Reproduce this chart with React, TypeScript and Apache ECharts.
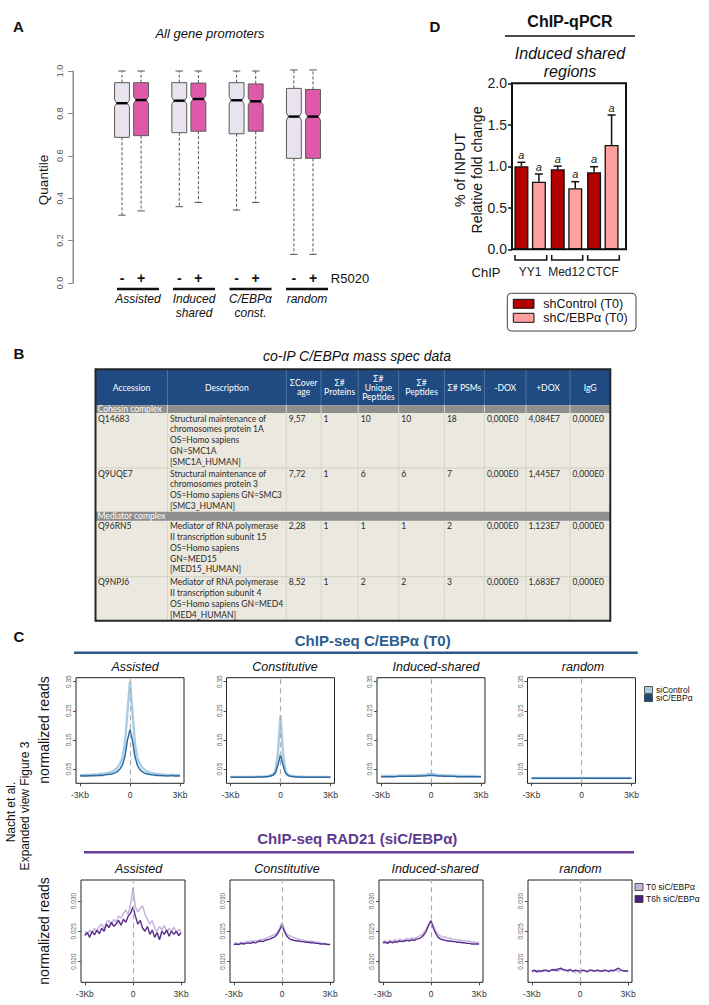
import React, { useEffect, useRef } from "react";
import * as echarts from "echarts";

const SANS = "'Liberation Sans', Arial, Helvetica, sans-serif";
const NARROW = "'Liberation Sans Narrow', 'Liberation Sans', Arial, sans-serif";
const TFONT = "Lato, 'Open Sans', sans-serif";

// ---------------- Panel A : boxplots ----------------
const BOX_POS = [0, 1, 3, 4, 6, 7, 9, 10];
const BOX_TREAT = ["-", "+", "-", "+", "-", "+", "-", "+"];
const BOX_LOW = [0.32, 0.34, 0.36, 0.38, 0.344, 0.38, 0.135, 0.135];
const BOX_Q1 = [0.687, 0.695, 0.709, 0.716, 0.704, 0.716, 0.588, 0.588];
const BOX_MED = [0.848, 0.863, 0.86, 0.868, 0.862, 0.857, 0.785, 0.785];
const BOX_Q3 = [0.945, 0.945, 0.945, 0.943, 0.945, 0.939, 0.918, 0.913];
const BOX_HIGH = [1.0, 1.0, 1.0, 1.0, 1.0, 1.0, 1.005, 1.005];
const A_GROUPS = ["Assisted", "Induced\nshared", "C/EBPα\nconst.", "random"];
const A_YTICKS = [0, 0.2, 0.4, 0.6, 0.8, 1.0];

// ---------------- Panel D : ChIP-qPCR ----------------
const QPCR_TARGETS = ["YY1", "Med12", "CTCF"];
const QPCR_SERIES = ["shControl (T0)", "shC/EBPα (T0)"];
const QPCR_CTRL = [1.0, 0.964, 0.928];
const QPCR_CTRL_ERR = [0.048, 0.038, 0.067];
const QPCR_SH = [0.815, 0.735, 1.257];
const QPCR_SH_ERR = [0.092, 0.08, 0.361];
const QPCR_SIG_CTRL = ["a", "a", "a"];
const QPCR_SIG_SH = ["a", "a", "a"];

// ---------------- Panel B : table ----------------
const TABLE_COLS = ["Accession", "Description", "ΣCover\nage", "Σ#\nProteins", "Σ#\nUnique\nPeptides", "Σ#\nPeptides", "Σ# PSMs", "-DOX", "+DOX", "IgG"];
const TABLE_SECTIONS = ["Cohesin complex", "Mediator complex"];
const ACCESSIONS = ["Q14683", "Q9UQE7", "Q96RN5", "Q9NPJ6"];
const DESCRIPTIONS = [
  "Structural maintenance of\nchromosomes protein 1A\nOS=Homo sapiens\nGN=SMC1A\n[SMC1A_HUMAN]",
  "Structural maintenance of\nchromosomes protein 3\nOS=Homo sapiens GN=SMC3\n[SMC3_HUMAN]",
  "Mediator of RNA polymerase\nII transcription subunit 15\nOS=Homo sapiens\nGN=MED15\n[MED15_HUMAN]",
  "Mediator of RNA polymerase\nII transcription subunit 4\nOS=Homo sapiens GN=MED4\n[MED4_HUMAN]",
];
const COVERAGE = ["9,57", "7,72", "2,28", "8,52"];
const PROTEINS = ["1", "1", "1", "1"];
const UNIQUE_PEPTIDES = ["10", "6", "1", "2"];
const PEPTIDES = ["10", "6", "1", "2"];
const PSMS = ["18", "7", "2", "3"];
const MINUS_DOX = ["0,000E0", "0,000E0", "0,000E0", "0,000E0"];
const PLUS_DOX = ["4,084E7", "1,445E7", "1,123E7", "1,683E7"];
const IGG = ["0,000E0", "0,000E0", "0,000E0", "0,000E0"];

// ---------------- Panel C : profiles (41 bins, -3Kb..3Kb) ----------------
const PROFILE_PANELS = ["Assisted", "Constitutive", "Induced-shared", "random"];
const PROFILE_TICKS = ["-3Kb", "0", "3Kb"];
const CEBPA_SERIES = ["siControl", "siC/EBPα"];
const RAD21_SERIES = ["T0 siC/EBPα", "T6h siC/EBPα"];
const CEBPA_YTICKS = [0.05, 0.15, 0.25, 0.35];
const RAD21_YTICKS = [0.02, 0.025, 0.03];

const CEBPA_ASSISTED_CTRL = [0.030,0.029,0.030,0.031,0.030,0.031,0.032,0.031,0.033,0.034,0.035,0.037,0.039,0.042,0.047,0.055,0.068,0.090,0.140,0.250,0.350,0.245,0.135,0.088,0.066,0.054,0.046,0.041,0.038,0.036,0.034,0.033,0.032,0.031,0.031,0.030,0.030,0.031,0.029,0.030,0.030];
const CEBPA_ASSISTED_SI = [0.027,0.026,0.027,0.026,0.027,0.028,0.027,0.028,0.029,0.028,0.030,0.031,0.032,0.034,0.037,0.042,0.050,0.065,0.095,0.150,0.185,0.148,0.092,0.062,0.048,0.040,0.035,0.033,0.031,0.030,0.029,0.028,0.028,0.027,0.027,0.026,0.027,0.027,0.026,0.027,0.026];
const CEBPA_CONST_CTRL = [0.023,0.023,0.023,0.023,0.023,0.023,0.023,0.023,0.023,0.023,0.024,0.024,0.024,0.025,0.025,0.026,0.028,0.032,0.045,0.110,0.235,0.105,0.044,0.031,0.027,0.026,0.025,0.024,0.024,0.024,0.023,0.023,0.023,0.023,0.023,0.023,0.023,0.023,0.023,0.023,0.023];
const CEBPA_CONST_SI = [0.022,0.022,0.022,0.022,0.022,0.022,0.022,0.022,0.022,0.022,0.022,0.023,0.023,0.023,0.024,0.024,0.026,0.029,0.037,0.065,0.100,0.063,0.036,0.028,0.025,0.024,0.023,0.023,0.023,0.022,0.022,0.022,0.022,0.022,0.022,0.022,0.022,0.022,0.022,0.022,0.022];
const CEBPA_INDUCED_CTRL = [0.026,0.026,0.026,0.026,0.026,0.027,0.027,0.027,0.027,0.027,0.028,0.028,0.028,0.028,0.029,0.029,0.030,0.030,0.031,0.033,0.034,0.033,0.031,0.030,0.029,0.029,0.028,0.028,0.027,0.027,0.027,0.027,0.026,0.026,0.026,0.026,0.026,0.026,0.025,0.025,0.025];
const CEBPA_INDUCED_SI = [0.024,0.024,0.024,0.024,0.024,0.024,0.024,0.025,0.025,0.025,0.025,0.025,0.025,0.025,0.025,0.026,0.026,0.026,0.027,0.028,0.029,0.028,0.027,0.026,0.026,0.025,0.025,0.025,0.025,0.025,0.024,0.024,0.024,0.024,0.024,0.024,0.024,0.024,0.024,0.024,0.024];
const CEBPA_RANDOM_CTRL = [0.019,0.0192,0.0189,0.0191,0.019,0.0192,0.019,0.0191,0.0189,0.0192,0.019,0.0191,0.019,0.0192,0.0189,0.0191,0.019,0.0192,0.019,0.0191,0.0193,0.0191,0.019,0.0192,0.0189,0.0191,0.019,0.0192,0.019,0.0191,0.0189,0.0192,0.019,0.0191,0.019,0.0192,0.0189,0.0191,0.019,0.0192,0.019];
const CEBPA_RANDOM_SI = [0.0185,0.0186,0.0184,0.0186,0.0185,0.0186,0.0184,0.0186,0.0185,0.0186,0.0185,0.0184,0.0186,0.0185,0.0186,0.0184,0.0186,0.0185,0.0186,0.0185,0.0187,0.0185,0.0186,0.0184,0.0186,0.0185,0.0186,0.0184,0.0186,0.0185,0.0186,0.0185,0.0184,0.0186,0.0185,0.0186,0.0184,0.0186,0.0185,0.0186,0.0185];

const RAD21_ASSISTED_T0 = [0.0250,0.0245,0.0252,0.0248,0.0255,0.0250,0.0258,0.0262,0.0255,0.0265,0.0268,0.0260,0.0270,0.0265,0.0275,0.0272,0.0280,0.0285,0.0278,0.0295,0.0322,0.0290,0.0282,0.0288,0.0292,0.0278,0.0270,0.0262,0.0268,0.0255,0.0250,0.0258,0.0252,0.0260,0.0248,0.0255,0.0250,0.0257,0.0248,0.0253,0.0250];
const RAD21_ASSISTED_T6 = [0.0243,0.0248,0.0240,0.0250,0.0244,0.0252,0.0246,0.0255,0.0250,0.0262,0.0256,0.0265,0.0258,0.0262,0.0268,0.0260,0.0270,0.0265,0.0275,0.0280,0.0290,0.0275,0.0262,0.0268,0.0255,0.0250,0.0258,0.0245,0.0252,0.0240,0.0248,0.0236,0.0250,0.0245,0.0252,0.0242,0.0250,0.0245,0.0250,0.0243,0.0248];
const RAD21_CONST_T0 = [0.0230,0.0231,0.0229,0.0232,0.0231,0.0233,0.0232,0.0234,0.0233,0.0235,0.0234,0.0236,0.0237,0.0238,0.0240,0.0241,0.0243,0.0245,0.0248,0.0255,0.0265,0.0252,0.0245,0.0243,0.0241,0.0240,0.0238,0.0237,0.0236,0.0235,0.0234,0.0233,0.0234,0.0233,0.0232,0.0232,0.0231,0.0230,0.0230,0.0229,0.0229];
const RAD21_CONST_T6 = [0.0228,0.0229,0.0228,0.0230,0.0229,0.0230,0.0231,0.0230,0.0232,0.0231,0.0233,0.0234,0.0233,0.0235,0.0236,0.0237,0.0239,0.0241,0.0245,0.0252,0.0260,0.0250,0.0242,0.0238,0.0236,0.0235,0.0234,0.0234,0.0233,0.0233,0.0232,0.0232,0.0231,0.0231,0.0230,0.0230,0.0229,0.0229,0.0229,0.0228,0.0228];
const RAD21_INDUCED_T0 = [0.0233,0.0234,0.0232,0.0235,0.0233,0.0236,0.0234,0.0237,0.0235,0.0236,0.0238,0.0237,0.0239,0.0238,0.0240,0.0242,0.0244,0.0248,0.0253,0.0262,0.0268,0.0258,0.0250,0.0245,0.0242,0.0240,0.0241,0.0238,0.0239,0.0236,0.0237,0.0235,0.0236,0.0234,0.0235,0.0233,0.0234,0.0232,0.0233,0.0231,0.0232];
const RAD21_INDUCED_T6 = [0.0231,0.0232,0.0230,0.0233,0.0231,0.0233,0.0232,0.0234,0.0233,0.0234,0.0235,0.0234,0.0236,0.0235,0.0237,0.0238,0.0240,0.0244,0.0250,0.0260,0.0267,0.0255,0.0246,0.0240,0.0237,0.0236,0.0235,0.0234,0.0234,0.0233,0.0233,0.0232,0.0232,0.0231,0.0231,0.0230,0.0230,0.0229,0.0229,0.0229,0.0229];
const RAD21_RANDOM_T0 = [0.0185,0.0183,0.0186,0.0182,0.0185,0.0184,0.0187,0.0183,0.0186,0.0185,0.0188,0.0184,0.0187,0.0186,0.0185,0.0183,0.0186,0.0184,0.0182,0.0185,0.0180,0.0184,0.0186,0.0183,0.0185,0.0187,0.0184,0.0186,0.0183,0.0185,0.0184,0.0186,0.0183,0.0185,0.0184,0.0187,0.0183,0.0186,0.0184,0.0185,0.0183];
const RAD21_RANDOM_T6 = [0.0184,0.0186,0.0183,0.0185,0.0184,0.0186,0.0185,0.0184,0.0186,0.0187,0.0185,0.0188,0.0189,0.0187,0.0186,0.0185,0.0187,0.0184,0.0186,0.0185,0.0184,0.0186,0.0185,0.0183,0.0186,0.0185,0.0184,0.0186,0.0185,0.0184,0.0186,0.0185,0.0184,0.0186,0.0185,0.0187,0.0189,0.0186,0.0185,0.0184,0.0185];

const CEBPA_PANELS = [
  [CEBPA_ASSISTED_CTRL, CEBPA_ASSISTED_SI],
  [CEBPA_CONST_CTRL, CEBPA_CONST_SI],
  [CEBPA_INDUCED_CTRL, CEBPA_INDUCED_SI],
  [CEBPA_RANDOM_CTRL, CEBPA_RANDOM_SI],
];
const RAD21_PANELS = [
  [RAD21_ASSISTED_T0, RAD21_ASSISTED_T6],
  [RAD21_CONST_T0, RAD21_CONST_T6],
  [RAD21_INDUCED_T0, RAD21_INDUCED_T6],
  [RAD21_RANDOM_T0, RAD21_RANDOM_T6],
];

// ---------------- layout ----------------
const A_UNIT = 19.1;
const A_XMIN = -2.565;
const A_XMAX = 10.5;
const A_GRID = { left: 73, top: 71, width: (A_XMAX - A_XMIN) * A_UNIT, height: 212 };
const D_GRID = { left: 512, top: 83.3, width: 109, height: 166 };
const TOP_LEFTS = [76, 226.5, 377, 527.5];
const TOP_W = 108;
const TOP_Y = { top: 677.7, height: 105.6 };
const BOT_LEFTS = [81, 230, 379, 528];
const BOT_W = 104;
const BOT_Y = { top: 880, height: 102.3 };
const TOP_TITLE_X = [135, 285, 436, 583];
const BOT_TITLE_X = [138.6, 287, 435, 580.5];
const COL_EDGES = [95.5, 167.5, 286.3, 321, 358.2, 398.7, 444.4, 484.4, 526, 570, 610.3];
const HEADER_TOP = 369.3;
const ROW_EDGES = [405.3, 413, 468, 511.7, 520.7, 576.7, 620.7];

const BLUE_LIGHT = "#a9cde4";
const BLUE_DARK = "#2d6aa3";
const PURPLE_LIGHT = "#c6b5dc";
const PURPLE_DARK = "#5a2c8c";

function txt(text: string, x: number, y: number, o: any = {}) {
  const align = o.align || "center";
  const va = o.va || "middle";
  return {
    type: "text",
    x,
    y,
    rotation: o.rot || 0,
    z: 20,
    silent: true,
    style: {
      text,
      fill: o.color || "#111",
      fontSize: o.size || 12,
      fontFamily: o.family || SANS,
      fontStyle: o.italic ? "italic" : "normal",
      fontWeight: o.bold ? "bold" : "normal",
      align,
      verticalAlign: va,
      textAlign: align,
      textVerticalAlign: va,
      lineHeight: o.lh,
    },
  };
}
function ln(x1: number, y1: number, x2: number, y2: number, color: string, w: number, dash?: number[]) {
  return { type: "line", z: 20, silent: true, shape: { x1, y1, x2, y2 }, style: { stroke: color, lineWidth: w, lineDash: dash } };
}
function rc(x: number, y: number, w: number, h: number, fill: string, stroke?: string, lw?: number, r?: number) {
  return { type: "rect", z: 15, silent: true, shape: { x, y, width: w, height: h, r: r || 0 }, style: { fill, stroke: stroke || null, lineWidth: lw || 0 } };
}

function buildGraphic() {
  const g: any[] = [];
  // ---- panel letters & side text
  g.push(txt("A", 18.5, 26, { bold: true, size: 15 }));
  g.push(txt("D", 435, 26, { bold: true, size: 15 }));
  g.push(txt("B", 19, 353, { bold: true, size: 15 }));
  g.push(txt("C", 19, 636, { bold: true, size: 15 }));
  g.push(txt("Nacht et al.", 11, 812, { rot: Math.PI / 2, size: 12 }));
  g.push(txt("Expanded view Figure 3", 25, 806, { rot: Math.PI / 2, size: 12 }));

  // ---- panel A texts
  g.push(txt("All gene promoters", 210, 33, { italic: true, size: 13 }));
  g.push(txt("Quantile", 43, 180, { rot: Math.PI / 2, size: 13.5 }));
  BOX_POS.forEach((p, i) => {
    g.push(txt(BOX_TREAT[i], A_GRID.left + (p - A_XMIN) * A_UNIT, 278, { size: 14, bold: true }));
  });
  g.push(txt("R5020", 350, 278, { size: 13 }));
  const grpX = [138, 194, 250.5, 307];
  grpX.forEach((cx, i) => {
    g.push(ln(cx - 21, 289, cx + 21, 289, "#111", 2.6));
    g.push(txt(A_GROUPS[i], cx, 291.5, { italic: true, size: 12, va: "top", lh: 14 }));
  });

  // ---- panel D texts
  g.push(txt("ChIP-qPCR", 570, 21, { bold: true, size: 16 }));
  g.push(ln(505, 36, 635, 36, "#111", 1.5));
  g.push(txt("Induced shared\nregions", 570, 62, { italic: true, size: 16, lh: 18 }));
  g.push(txt("% of INPUT", 460, 170, { rot: Math.PI / 2, size: 14 }));
  g.push(txt("Relative fold change", 476.5, 170, { rot: Math.PI / 2, size: 14 }));
  g.push({ type: "rect", z: 18, silent: true, shape: { x: D_GRID.left, y: D_GRID.top, width: 114, height: D_GRID.height }, style: { fill: null, stroke: "#111", lineWidth: 2 } });
  const brackets = [[515, 546.7], [551.7, 582.7], [587.7, 619.3]];
  brackets.forEach(([a, b]) => {
    g.push({ type: "polyline", z: 20, silent: true, shape: { points: [[a, 255], [a, 260], [b, 260], [b, 255]] }, style: { stroke: "#111", lineWidth: 1.5, fill: null } });
  });
  g.push(txt("ChIP", 486, 272, { size: 13 }));
  g.push(rc(507.3, 293.3, 128.7, 37.7, "#fff", "#444", 1, 4));
  g.push(rc(513.3, 299.3, 20.7, 9, "#b30000", "#111", 1));
  g.push(rc(513.3, 313.3, 20.7, 9, "#ffa0a0", "#111", 1));
  g.push(txt(QPCR_SERIES[0], 543.3, 304, { align: "left", size: 12.5 }));
  g.push(txt(QPCR_SERIES[1], 543.3, 318, { align: "left", size: 12.5 }));

  // ---- panel B table
  g.push(txt("co-IP C/EBPα mass spec data", 357, 356, { italic: true, size: 14 }));
  const TL = COL_EDGES[0];
  const TR = COL_EDGES[COL_EDGES.length - 1];
  const TB = ROW_EDGES[ROW_EDGES.length - 1];
  g.push(rc(TL, HEADER_TOP, TR - TL, TB - HEADER_TOP, "#eae8df"));
  g.push(rc(TL, HEADER_TOP, TR - TL, ROW_EDGES[0] - HEADER_TOP, "#1f4b82"));
  TABLE_COLS.forEach((c, i) => {
    const cx = (COL_EDGES[i] + COL_EDGES[i + 1]) / 2;
    g.push(txt(c, cx, (HEADER_TOP + ROW_EDGES[0]) / 2 + 0.5, { size: 8.6, color: "#fff", family: TFONT, lh: 9 }));
  });
  // section rows
  const sectionRows = [[ROW_EDGES[0], ROW_EDGES[1]], [ROW_EDGES[3], ROW_EDGES[4]]];
  sectionRows.forEach(([a, b], i) => {
    g.push(rc(TL, a, TR - TL, b - a, "#8e8e8e"));
    g.push(txt(TABLE_SECTIONS[i], TL + 2, (a + b) / 2, { align: "left", size: 8.6, color: "#fff", family: TFONT }));
  });
  // data rows
  const dataRows = [[ROW_EDGES[1], ROW_EDGES[2]], [ROW_EDGES[2], ROW_EDGES[3]], [ROW_EDGES[4], ROW_EDGES[5]], [ROW_EDGES[5], ROW_EDGES[6]]];
  dataRows.forEach(([a], r) => {
    const cells = [ACCESSIONS[r], DESCRIPTIONS[r], COVERAGE[r], PROTEINS[r], UNIQUE_PEPTIDES[r], PEPTIDES[r], PSMS[r], MINUS_DOX[r], PLUS_DOX[r], IGG[r]];
    cells.forEach((c, ci) => {
      g.push(txt(c, COL_EDGES[ci] + 2.5, a + 0.4, { align: "left", va: "top", size: 8.5, color: "#2a2a2a", family: TFONT, lh: 10.7 }));
    });
  });
  // grid lines
  for (let i = 1; i < COL_EDGES.length - 1; i++) {
    g.push(ln(COL_EDGES[i], HEADER_TOP, COL_EDGES[i], ROW_EDGES[0], "#4f73a0", 1));
    g.push(ln(COL_EDGES[i], ROW_EDGES[0], COL_EDGES[i], ROW_EDGES[3], "#d8d5ca", 1));
    g.push(ln(COL_EDGES[i], ROW_EDGES[4], COL_EDGES[i], TB, "#d8d5ca", 1));
  }
  [ROW_EDGES[2], ROW_EDGES[5]].forEach((y) => g.push(ln(TL, y, TR, y, "#d2cfc4", 1)));
  g.push({ type: "rect", z: 22, silent: true, shape: { x: TL, y: HEADER_TOP, width: TR - TL, height: TB - HEADER_TOP }, style: { fill: null, stroke: "#262626", lineWidth: 2 } });

  // ---- panel C top
  g.push(txt("ChIP-seq C/EBPα (T0)", 372.7, 640, { bold: true, size: 15, color: "#2c5d8f" }));
  g.push(ln(74, 652.7, 637.7, 652.7, "#2d5a8a", 2.5));
  PROFILE_PANELS.forEach((p, i) => g.push(txt(p, TOP_TITLE_X[i], 667.3, { italic: true, size: 12.5 })));
  g.push(txt("normalized reads", 44, 730, { rot: Math.PI / 2, size: 14 }));
  g.push(rc(644.5, 686.5, 8, 7, BLUE_LIGHT, "#333", 0.8));
  g.push(rc(644.5, 694.5, 8, 7, "#1f4a78", "#333", 0.8));
  g.push(txt(CEBPA_SERIES[0], 656, 690, { align: "left", size: 8.5, family: NARROW }));
  g.push(txt(CEBPA_SERIES[1], 656, 698, { align: "left", size: 8.5, family: NARROW }));

  // ---- panel C bottom
  g.push(txt("ChIP-seq RAD21 (siC/EBPα)", 357.3, 838.3, { bold: true, size: 15, color: "#5c3a8e" }));
  g.push(ln(84, 852.3, 634, 852.3, "#6a3d9a", 2.5));
  PROFILE_PANELS.forEach((p, i) => g.push(txt(p, BOT_TITLE_X[i], 869, { italic: true, size: 12.5 })));
  g.push(txt("normalized reads", 44, 931, { rot: Math.PI / 2, size: 14 }));
  g.push(rc(635, 883.5, 8, 7, PURPLE_LIGHT, "#333", 0.8));
  g.push(rc(635, 895.5, 8, 7, "#4b1f7a", "#333", 0.8));
  g.push(txt(RAD21_SERIES[0], 646, 887, { align: "left", size: 8.5, family: NARROW }));
  g.push(txt(RAD21_SERIES[1], 646, 899, { align: "left", size: 8.5, family: NARROW }));
  return g;
}

function boxRender(params: any, api: any) {
  const x = api.value(0);
  const lo = api.coord([x, api.value(1)]);
  const q1 = api.coord([x, api.value(2)]);
  const md = api.coord([x, api.value(3)]);
  const q3 = api.coord([x, api.value(4)]);
  const hi = api.coord([x, api.value(5)]);
  const unit = api.size([1, 0])[0];
  const hw = unit * 0.39;
  const cx = md[0];
  const n = api.size([0, 0.017])[1];
  const ins = hw * 0.28;
  const L = cx - hw;
  const R = cx + hw;
  const fill = api.value(6) ? "#dd5aa8" : "#e8e3ef";
  return {
    type: "group",
    children: [
      { type: "line", shape: { x1: cx, y1: q3[1], x2: cx, y2: hi[1] }, style: { stroke: "#555", lineWidth: 1, lineDash: [3, 2] } },
      { type: "line", shape: { x1: cx, y1: q1[1], x2: cx, y2: lo[1] }, style: { stroke: "#555", lineWidth: 1, lineDash: [3, 2] } },
      { type: "line", shape: { x1: cx - hw * 0.5, y1: hi[1], x2: cx + hw * 0.5, y2: hi[1] }, style: { stroke: "#555", lineWidth: 1 } },
      { type: "line", shape: { x1: cx - hw * 0.5, y1: lo[1], x2: cx + hw * 0.5, y2: lo[1] }, style: { stroke: "#555", lineWidth: 1 } },
      {
        type: "polygon",
        shape: {
          points: [
            [L, q3[1]], [R, q3[1]], [R, md[1] - n], [R - ins, md[1]], [R, md[1] + n],
            [R, q1[1]], [L, q1[1]], [L, md[1] + n], [L + ins, md[1]], [L, md[1] - n],
          ],
        },
        style: { fill, stroke: "#5a5a5a", lineWidth: 1 },
      },
      { type: "line", shape: { x1: L + ins, y1: md[1], x2: R - ins, y2: md[1] }, style: { stroke: "#000", lineWidth: 2.4 } },
    ],
  };
}

// R-style y axis of panel A (line from first to last tick, ticks), drawn from the axis scale
function axisRender(params: any, api: any) {
  const top = api.coord([A_XMIN, A_YTICKS[A_YTICKS.length - 1]]);
  const bot = api.coord([A_XMIN, A_YTICKS[0]]);
  const children: any[] = [
    { type: "line", shape: { x1: top[0], y1: top[1], x2: bot[0], y2: bot[1] }, style: { stroke: "#8c8c8c", lineWidth: 1 } },
  ];
  return { type: "group", children };
}

function errRender(offset: number, sig: string[]) {
  return (params: any, api: any) => {
    const i = api.value(0);
    const v = api.value(1);
    const e = api.value(2);
    const p0 = api.coord([i, v]);
    const p1 = api.coord([i, v + e]);
    const x = p0[0] + offset;
    return {
      type: "group",
      children: [
        { type: "line", shape: { x1: x, y1: p0[1], x2: x, y2: p1[1] }, style: { stroke: "#111", lineWidth: 1.5 } },
        { type: "line", shape: { x1: x - 4, y1: p1[1], x2: x + 4, y2: p1[1] }, style: { stroke: "#111", lineWidth: 1.5 } },
        {
          type: "text",
          x,
          y: p1[1] - 2,
          style: { text: sig[params.dataIndex], fill: "#222", fontSize: 11, fontStyle: "italic", fontFamily: SANS, align: "center", verticalAlign: "bottom", textAlign: "center", textVerticalAlign: "bottom" },
        },
      ],
    };
  };
}

function buildOption() {
  const grid: any[] = [];
  const xAxis: any[] = [];
  const yAxis: any[] = [];
  const series: any[] = [];

  // panel A
  grid.push({ ...A_GRID });
  xAxis.push({ gridIndex: 0, type: "value", min: A_XMIN, max: A_XMAX, show: false, axisLine: { onZero: false } });
  yAxis.push({
    gridIndex: 0, type: "value", min: 0, max: 1, interval: 0.2,
    axisLine: { show: true, onZero: false, lineStyle: { color: "#8c8c8c", width: 1 } },
    axisTick: { show: true, length: 5, lineStyle: { color: "#8c8c8c", width: 1 } },
    axisLabel: { rotate: 90, fontSize: 9, color: "#555", margin: 9, fontFamily: SANS, formatter: (v: number) => v.toFixed(1) },
    splitLine: { show: false },
  });
  series.push({
    type: "custom", xAxisIndex: 0, yAxisIndex: 0, renderItem: axisRender, silent: true, clip: false,
    encode: { x: 0, y: 1 },
    data: [[A_XMIN, 0]],
  });
  series.push({
    type: "custom", xAxisIndex: 0, yAxisIndex: 0, renderItem: boxRender, silent: true,
    encode: { x: 0, y: [1, 2, 3, 4, 5] },
    data: BOX_POS.map((p, i) => [p, BOX_LOW[i], BOX_Q1[i], BOX_MED[i], BOX_Q3[i], BOX_HIGH[i], i % 2]),
  });

  // panel D
  grid.push({ ...D_GRID });
  xAxis.push({
    gridIndex: 1, type: "category", data: QPCR_TARGETS,
    axisLine: { show: false, onZero: false }, axisTick: { show: false },
    axisLabel: { interval: 0, hideOverlap: false, margin: 17, fontSize: 12, color: "#222", fontFamily: SANS },
  });
  yAxis.push({
    gridIndex: 1, type: "value", min: 0, max: 2, interval: 0.5,
    axisLine: { show: true, onZero: false, lineStyle: { color: "#111", width: 2 } },
    axisTick: { show: true, length: 4, lineStyle: { color: "#111", width: 1.5 } },
    axisLabel: { fontSize: 14, color: "#222", margin: 5, fontFamily: SANS, formatter: (v: number) => v.toFixed(1) },
    splitLine: { show: false },
  });
  series.push({ name: QPCR_SERIES[0], type: "bar", xAxisIndex: 1, yAxisIndex: 1, data: QPCR_CTRL, barWidth: 14, barGap: "25%", silent: true, itemStyle: { color: "#b30000", borderColor: "#111", borderWidth: 1.3 } });
  series.push({ name: QPCR_SERIES[1], type: "bar", xAxisIndex: 1, yAxisIndex: 1, data: QPCR_SH, barWidth: 14, barGap: "25%", silent: true, itemStyle: { color: "#ffa0a0", borderColor: "#111", borderWidth: 1.3 } });
  series.push({ type: "custom", xAxisIndex: 1, yAxisIndex: 1, silent: true, renderItem: errRender(-8.75, QPCR_SIG_CTRL), encode: { x: 0, y: 1 }, data: QPCR_CTRL.map((v, i) => [i, v, QPCR_CTRL_ERR[i]]) });
  series.push({ type: "custom", xAxisIndex: 1, yAxisIndex: 1, silent: true, renderItem: errRender(8.75, QPCR_SIG_SH), encode: { x: 0, y: 1 }, data: QPCR_SH.map((v, i) => [i, v, QPCR_SH_ERR[i]]) });

  // panel C
  const addProfile = (gi: number, left: number, width: number, ypos: any, ymin: number, ymax: number, ticks: number[], dec: number, pair: number[][], colors: string[], widths: number[]) => {
    grid.push({ left, width, top: ypos.top, height: ypos.height, show: true, borderColor: "#222", borderWidth: 1, backgroundColor: "transparent" });
    xAxis.push({
      gridIndex: gi, type: "value", min: -1.6, max: 41.6,
      axisLine: { show: false, onZero: false },
      axisTick: { show: true, length: 3, customValues: [0, 20, 40], lineStyle: { color: "#444" } },
      axisLabel: { customValues: [0, 20, 40], fontSize: 8.5, color: "#333", margin: 7, fontFamily: NARROW, formatter: (v: number) => PROFILE_TICKS[Math.round(v / 20)] },
      splitLine: { show: false },
    });
    yAxis.push({
      gridIndex: gi, type: "value", min: ymin, max: ymax,
      axisLine: { show: false, onZero: false },
      axisTick: { show: true, length: 3, customValues: ticks, lineStyle: { color: "#555" } },
      axisLabel: { customValues: ticks, rotate: 90, fontSize: 6.5, color: "#666", margin: 4, fontFamily: SANS, formatter: (v: number) => v.toFixed(dec) },
      splitLine: { show: false },
    });
    pair.forEach((arr, k) => {
      series.push({
        type: "line", xAxisIndex: gi, yAxisIndex: gi, silent: true, symbol: "none", showSymbol: false,
        data: arr.map((v, i) => [i, v]),
        lineStyle: { color: colors[k], width: widths[k] },
        z: 3 + k,
        markLine: k === 0 ? { silent: true, symbol: "none", label: { show: false }, lineStyle: { color: "#adadad", type: [5, 4], width: 1.2 }, data: [{ xAxis: 20 }] } : undefined,
      });
    });
  };
  CEBPA_PANELS.forEach((pair, i) => addProfile(2 + i, TOP_LEFTS[i], TOP_W, TOP_Y, 0.0011, 0.3634, CEBPA_YTICKS, 2, pair, [BLUE_LIGHT, BLUE_DARK], [2.4, 1.5]));
  RAD21_PANELS.forEach((pair, i) => addProfile(6 + i, BOT_LEFTS[i], BOT_W, BOT_Y, 0.01658, 0.03347, RAD21_YTICKS, 3, pair, [PURPLE_LIGHT, PURPLE_DARK], [1.5, 1.4]));

  return {
    animation: false,
    backgroundColor: "#ffffff",
    grid,
    xAxis,
    yAxis,
    series,
    graphic: buildGraphic(),
  };
}

export default function App() {
  const ref = useRef<HTMLDivElement>(null);
  useEffect(() => {
    if (!ref.current) return;
    const chart = echarts.init(ref.current, undefined, { renderer: "svg" });
    chart.setOption(buildOption() as any);
    return () => chart.dispose();
  }, []);
  return <div ref={ref} style={{ position: "absolute", left: 0, top: 0, width: 709, height: 1005, background: "#fff" }} />;
}
